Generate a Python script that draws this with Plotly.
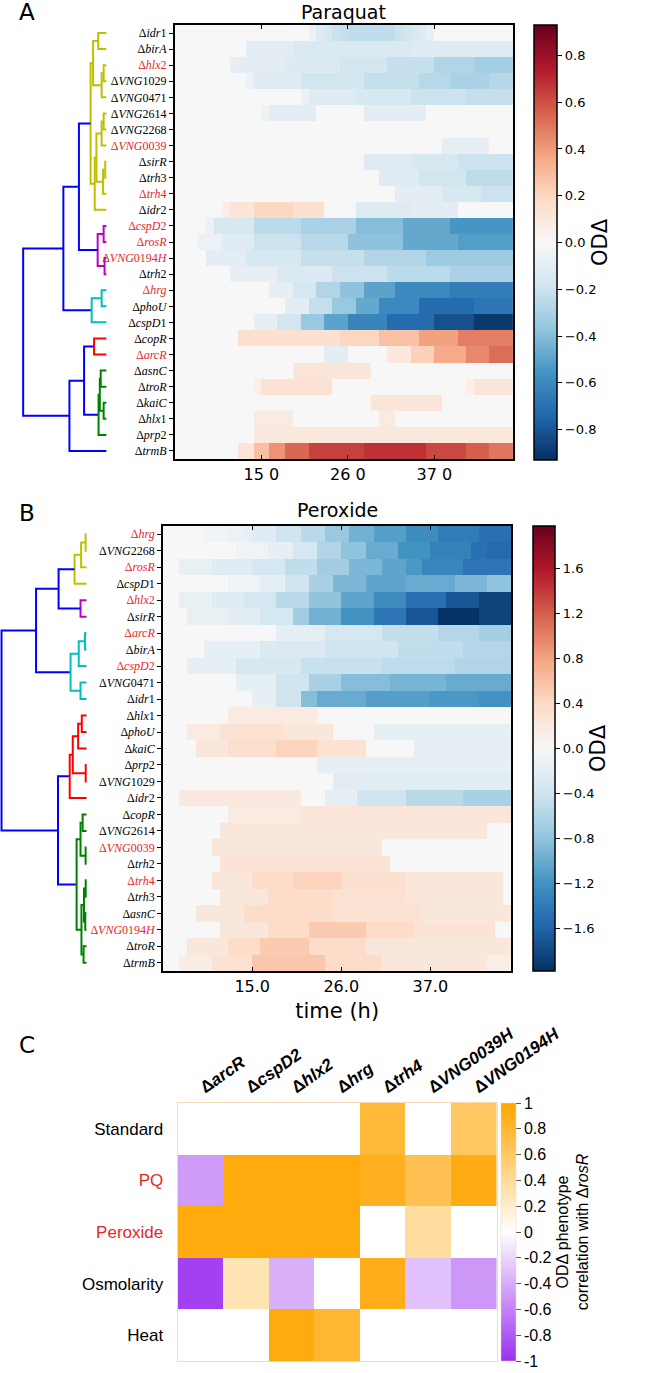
import re
import plotly.graph_objects as go

W, H = 671, 1373

# ---------------- data ----------------
hours = list(range(4, 47))            # 1-h bins (bin start), 4 h ... 46 h
hour_centers = [h + 0.5 for h in hours]
time_ticks = [15, 26, 37]
pq_tick_text = ["15 0", "26 0", "37 0"]
px_tick_text = ["15.0", "26.0", "37.0"]

pq_genes = ["idr1", "birA", "hlx2", "VNG1029", "VNG0471", "VNG2614", "VNG2268", "VNG0039",
            "sirR", "trh3", "trh4", "idr2", "cspD2", "rosR", "VNG0194H", "trh2", "hrg", "phoU",
            "cspD1", "copR", "arcR", "asnC", "troR", "kaiC", "hlx1", "prp2", "trmB"]
pq_red = ["hlx2", "VNG0039", "trh4", "cspD2", "rosR", "VNG0194H", "hrg", "arcR"]

pq_z = [
    [0,0,0,0,0,0,0,0,0,0, 0,0,0,0,0,0,0,-.06,-.12,-.16, -.2,-.22,-.24,-.24,-.24,-.24,-.24,-.24,-.2,-.18, -.15,-.12,-.08,0,0,0,0,0,0,0, 0,0,0],
    [0,0,0,0,0,0,0,0,0,-.1, -.1,-.1,-.1,-.1,-.1,-.14,-.14,-.14,-.14,-.14, -.14,-.14,-.14,-.14,-.14,-.14,-.14,-.14,-.14,-.14, -.12,-.12,-.12,-.12,-.12,-.12,-.12,-.12,-.12,-.12, -.12,-.12,-.12],
    [0,0,0,0,0,0,0,-.08,-.1,-.1, -.1,-.1,-.1,-.1,-.13,-.13,-.13,-.13,-.13,-.13, -.13,-.17,-.17,-.17,-.17,-.17,-.17,-.22,-.22,-.22, -.22,-.22,-.22,-.28,-.28,-.28,-.28,-.28,-.32,-.32, -.32,-.32,-.32],
    [0,0,0,0,0,0,0,0,0,-.06, -.12,-.12,-.12,-.12,-.12,-.12,-.18,-.18,-.18,-.18, -.18,-.18,-.18,-.18,-.22,-.22,-.22,-.22,-.22,-.22, -.22,-.26,-.26,-.26,-.26,-.3,-.3,-.3,-.3,-.3, -.27,-.27,-.27],
    [0,0,0,0,0,0,0,0,0,0, 0,0,0,0,0,0,-.06,-.12,-.12,-.12, -.12,-.12,-.12,-.16,-.16,-.16,-.16,-.16,-.16,-.16, -.2,-.2,-.2,-.2,-.2,-.2,-.2,-.22,-.22,-.22, -.22,-.22,-.22],
    [0,0,0,0,0,0,0,0,0,0, 0,-.05,-.1,-.1,-.1,-.1,-.1,-.1,0,0, 0,0,0,0,-.1,-.1,-.1,-.1,-.1,-.1, -.1,-.1,0,0,0,0,0,0,0,0, 0,0,0],
    [0,0,0,0,0,0,0,0,0,0, 0,0,0,0,0,0,0,0,0,0, 0,0,0,0,0,0,0,0,0,0, 0,0,0,0,0,0,0,0,0,0, 0,0,0],
    [0,0,0,0,0,0,0,0,0,0, 0,0,0,0,0,0,0,0,0,0, 0,0,0,0,0,0,0,0,0,0, 0,0,0,0,-.08,-.08,-.08,-.08,-.08,-.08, 0,0,0],
    [0,0,0,0,0,0,0,0,0,0, 0,0,0,0,0,0,0,0,0,0, 0,0,0,0,-.12,-.12,-.12,-.12,-.12,-.12, -.15,-.15,-.15,-.15,-.15,-.15,-.2,-.2,-.2,-.2, -.2,-.2,-.2],
    [0,0,0,0,0,0,0,0,0,0, 0,0,0,0,0,0,0,0,0,0, 0,0,0,0,0,0,-.12,-.12,-.12,-.12, -.12,-.18,-.18,-.18,-.18,-.18,-.18,-.24,-.24,-.24, -.24,-.24,-.24],
    [0,0,0,0,0,0,0,0,0,0, 0,0,0,0,0,0,0,0,0,0, 0,0,0,0,0,0,0,0,-.1,-.1, -.1,-.1,-.1,-.1,-.15,-.15,-.15,-.15,-.15,-.2, -.2,-.2,-.2],
    [0,0,0,0,0,0,.06,.12,.12,.12, .2,.2,.2,.2,.2,.15,.15,.15,.15,0, 0,0,0,-.12,-.12,-.12,-.12,-.12,-.12,-.12, -.1,-.1,-.1,-.1,-.1,-.1,0,0,0,0, 0,0,0],
    [0,0,0,0,-.06,-.15,-.15,-.15,-.15,-.15, -.25,-.25,-.25,-.25,-.25,-.25,-.3,-.3,-.3,-.3, -.3,-.3,-.3,-.4,-.4,-.4,-.4,-.4,-.4,-.48, -.48,-.48,-.48,-.48,-.48,-.55,-.55,-.55,-.55,-.55, -.55,-.55,-.55],
    [0,0,0,-.06,-.06,-.06,-.12,-.12,-.12,-.12, -.2,-.2,-.2,-.2,-.2,-.2,-.26,-.26,-.26,-.26, -.26,-.26,-.38,-.38,-.38,-.38,-.38,-.38,-.38,-.48, -.48,-.48,-.48,-.48,-.48,-.48,-.52,-.52,-.52,-.52, -.52,-.52,-.52],
    [0,0,0,0,-.1,-.1,-.1,-.1,-.1,-.16, -.16,-.16,-.16,-.16,-.16,-.16,-.22,-.22,-.22,-.22, -.22,-.22,-.22,-.22,-.28,-.28,-.28,-.28,-.28,-.28, -.28,-.28,-.34,-.34,-.34,-.34,-.34,-.34,-.34,-.34, -.34,-.34,-.34],
    [0,0,0,0,0,0,0,-.08,-.08,-.08, -.08,-.08,-.08,-.14,-.14,-.14,-.14,-.14,-.14,-.14, -.2,-.2,-.2,-.2,-.2,-.2,-.2,-.25,-.25,-.25, -.25,-.25,-.25,-.25,-.25,-.3,-.3,-.3,-.3,-.3, -.3,-.3,-.3],
    [0,0,0,0,0,0,0,0,0,0, 0,0,-.08,-.08,-.08,-.16,-.16,-.16,-.28,-.28, -.28,-.38,-.38,-.38,-.5,-.5,-.5,-.5,-.6,-.6, -.6,-.6,-.6,-.6,-.6,-.65,-.65,-.65,-.65,-.65, -.65,-.65,-.65],
    [0,0,0,0,0,0,0,0,0,0, 0,0,0,0,-.1,-.1,-.1,-.22,-.22,-.22, -.35,-.35,-.35,-.48,-.48,-.48,-.6,-.6,-.6,-.6, -.6,-.72,-.72,-.72,-.72,-.72,-.72,-.72,-.68,-.68, -.68,-.68,-.68],
    [0,0,0,0,0,0,0,0,0,0, -.08,-.08,-.08,-.18,-.18,-.18,-.35,-.35,-.35,-.5, -.5,-.5,-.62,-.62,-.62,-.62,-.62,-.72,-.72,-.72, -.72,-.72,-.72,-.82,-.82,-.82,-.82,-.82,-.9,-.9, -.9,-.9,-.9],
    [0,0,0,0,0,0,0,0,.15,.15, .15,.15,.15,.15,.15,.15,.15,.15,.15,.15, .15,.2,.2,.2,.2,.2,.28,.28,.28,.28, .28,.38,.38,.38,.38,.38,.48,.48,.48,.48, .48,.48,.48],
    [0,0,0,0,0,0,0,0,0,0, 0,0,0,0,0,0,0,0,0,-.1, -.1,-.1,0,0,0,0,0,.1,.1,.1, .22,.22,.22,.35,.35,.35,.35,.45,.45,.45, .52,.52,.52],
    [0,0,0,0,0,0,0,0,0,0, 0,0,0,0,0,.12,.12,.12,.12,.12, .12,.12,.12,.12,.12,0,0,0,0,0, 0,0,0,0,0,0,0,0,0,0, 0,0,0],
    [0,0,0,0,0,0,0,0,0,0, .06,.14,.14,.14,.14,.14,.14,.14,.14,.14, 0,0,0,0,0,0,0,0,0,0, 0,0,0,0,0,0,0,.06,.12,.12, .12,.12,.12],
    [0,0,0,0,0,0,0,0,0,0, 0,0,0,0,0,0,0,0,0,0, 0,0,0,0,0,.12,.12,.12,.12,.12, .12,.12,.12,.12,0,0,0,0,0,0, 0,0,0],
    [0,0,0,0,0,0,0,0,0,0, .08,.08,.08,.08,.08,0,0,0,0,0, 0,0,0,0,0,0,.08,.08,0,0, 0,0,0,0,0,0,0,0,0,0, 0,0,0],
    [0,0,0,0,0,0,0,0,0,0, .1,.1,.1,.1,.1,.1,.1,.1,.1,.1, .1,.1,.1,.1,.1,.1,.1,.1,.1,.1, .1,.1,.1,.1,.1,.1,.1,.1,.1,.1, .1,.1,.1],
    [0,0,0,0,0,0,0,0,.12,.12, .28,.28,.42,.42,.54,.54,.54,.64,.64,.64, .64,.64,.64,.64,.68,.68,.68,.68,.68,.68, .68,.68,.62,.62,.62,.62,.62,.56,.56,.56, .5,.5,.5],
]

px_genes = ["hrg", "VNG2268", "rosR", "cspD1", "hlx2", "sirR", "arcR", "birA", "cspD2", "VNG0471",
            "idr1", "hlx1", "phoU", "kaiC", "prp2", "VNG1029", "idr2", "copR", "VNG2614", "VNG0039",
            "trh2", "trh4", "trh3", "asnC", "VNG0194H", "troR", "trmB"]
px_red = ["hrg", "rosR", "hlx2", "arcR", "cspD2", "VNG0039", "trh4", "VNG0194H"]

px_z = [
    [0,0,0,0,0,-.06,-.06,-.06,-.12,-.12, -.15,-.25,-.25,-.25,-.4,-.4,-.4,-.55,-.55,-.55, -.75,-.75,-.75,-.95,-.95,-.95,-1.1,-1.1,-1.1,-1.1, -1.25,-1.25,-1.25,-1.25,-1.4,-1.4,-1.4,-1.4,-1.4,-1.5, -1.5,-1.5,-1.5],
    [0,0,0,0,0,0,0,0,0,-.08, -.08,-.08,-.08,-.18,-.18,-.18,-.35,-.35,-.35,-.6, -.6,-.6,-.8,-.8,-.8,-1,-1,-1,-1,-1.2, -1.2,-1.2,-1.2,-1.35,-1.35,-1.35,-1.35,-1.35,-1.5,-1.5, -1.55,-1.55,-1.55],
    [0,0,-.15,-.15,-.15,-.15,-.25,-.25,-.25,-.25, -.25,-.35,-.35,-.35,-.35,-.5,-.5,-.5,-.5,-.7, -.7,-.7,-.7,-.9,-.9,-.9,-.9,-1.05,-1.05,-1.05, -1.15,-1.15,-1.3,-1.3,-1.3,-1.3,-1.3,-1.45,-1.45,-1.45, -1.45,-1.45,-1.45],
    [0,0,0,0,0,0,0,0,-.08,-.08, -.08,-.08,-.2,-.2,-.2,-.4,-.4,-.4,-.65,-.65, -.65,-.9,-.9,-.9,-.9,-1.05,-1.05,-1.05,-1.05,-1.05, -1,-1,-1,-1,-1,-1,-.9,-.9,-.9,-.9, -.8,-.8,-.8],
    [0,0,-.15,-.15,-.15,-.15,-.25,-.25,-.25,-.25, -.35,-.35,-.35,-.35,-.55,-.55,-.55,-.55,-.8,-.8, -.8,-.8,-1.05,-1.05,-1.05,-1.05,-1.25,-1.25,-1.25,-1.25, -1.5,-1.5,-1.5,-1.5,-1.5,-1.7,-1.7,-1.7,-1.7,-1.85, -1.85,-1.85,-1.85],
    [0,0,0,-.15,-.15,-.15,-.15,-.15,-.22,-.22, -.22,-.22,-.35,-.35,-.35,-.35,-.7,-.7,-.95,-.95, -.95,-.95,-1.2,-1.2,-1.2,-1.2,-1.45,-1.45,-1.45,-1.45, -1.7,-1.7,-1.7,-1.7,-1.95,-1.95,-1.95,-1.95,-1.95,-1.85, -1.85,-1.85,-1.85],
    [0,0,0,0,0,0,0,0,0,0, 0,0,0,0,-.2,-.2,-.2,-.2,-.2,-.2, -.35,-.35,-.35,-.35,-.35,-.35,-.35,-.48,-.48,-.48, -.48,-.48,-.48,-.48,-.58,-.58,-.58,-.58,-.58,-.68, -.68,-.68,-.68],
    [0,0,0,0,0,-.18,-.18,-.18,-.18,-.18, -.18,-.18,-.3,-.3,-.3,-.3,-.3,-.3,-.3,-.3, -.4,-.4,-.4,-.4,-.4,-.4,-.4,-.4,-.4,-.5, -.5,-.5,-.5,-.5,-.5,-.5,-.5,-.58,-.58,-.58, -.58,-.58,-.58],
    [0,0,0,-.2,-.2,-.2,-.2,-.2,-.2,-.33, -.33,-.33,-.33,-.33,-.33,-.33,-.33,-.45,-.45,-.45, -.45,-.45,-.45,-.45,-.45,-.45,-.45,-.52,-.52,-.52, -.52,-.52,-.52,-.52,-.52,-.52,-.6,-.6,-.6,-.6, -.6,-.6,-.6],
    [0,0,0,0,0,0,0,0,0,-.18, -.18,-.18,-.18,-.18,-.4,-.4,-.4,-.4,-.65,-.65, -.65,-.65,-.85,-.85,-.85,-.85,-.85,-.85,-.92,-.92, -.92,-.92,-.92,-.92,-.92,-1,-1,-1,-1,-1, -1,-1,-1],
    [0,0,0,0,0,0,0,0,0,0, 0,-.18,-.18,-.18,-.4,-.4,-.4,-.85,-.85,-1, -1,-1,-1,-1,-1,-1.1,-1.1,-1.1,-1.1,-1.1, -1.1,-1.1,-1.1,-1.15,-1.15,-1.15,-1.15,-1.15,-1.15,-1.2, -1.2,-1.2,-1.2],
    [0,0,0,0,0,0,0,0,.18,.18, .18,.18,.18,.18,.18,.18,.18,.18,.18,0, 0,0,0,0,0,0,0,0,0,0, 0,0,0,0,0,0,0,0,0,0, 0,0,0],
    [0,0,0,.18,.18,.18,.18,.3,.3,.3, .3,.3,.3,.3,.3,.22,.22,.22,.22,.22, .22,0,0,0,0,0,-.18,-.18,-.18,-.18, -.18,-.18,-.18,-.18,-.18,-.18,-.18,-.18,-.18,-.18, -.18,-.18,-.18],
    [0,0,0,0,.22,.22,.22,.22,.33,.33, .33,.33,.33,.33,.45,.45,.45,.45,.45,.3, .3,.3,.3,.3,.3,0,0,0,0,0, 0,-.2,-.2,-.2,-.2,-.2,-.2,-.2,-.2,-.2, -.2,-.2,-.2],
    [0,0,0,0,0,0,0,0,0,0, 0,0,0,0,0,0,0,0,0,-.18, -.18,-.18,-.18,-.18,-.18,-.18,-.18,-.18,-.18,-.18, -.18,-.18,-.18,-.18,-.18,-.18,-.18,-.18,-.18,-.18, -.18,-.18,-.18],
    [0,0,0,0,0,0,0,0,0,0, 0,0,0,0,0,0,0,0,0,0, 0,-.22,-.22,-.22,-.22,-.22,-.22,-.22,-.22,-.22, -.22,-.22,-.22,-.22,-.22,-.22,-.22,-.22,-.22,-.22, -.22,-.22,-.22],
    [0,0,.2,.2,.2,.2,.2,.2,.2,.2, .2,.2,.2,.2,.2,.2,.2,0,0,0, -.2,-.2,-.2,-.2,-.4,-.4,-.4,-.4,-.4,-.4, -.55,-.55,-.55,-.55,-.55,-.55,-.55,-.65,-.65,-.65, -.65,-.65,-.65],
    [0,0,0,0,0,0,0,0,.18,.18, .18,.18,.18,.18,.18,.18,.18,.25,.25,.25, .25,.25,.25,.25,.25,.25,.25,.25,.25,.25, .25,.25,.25,.25,.25,.25,.25,.25,.25,.25, .25,.25,.25],
    [0,0,0,0,0,0,0,.22,.22,.22, .22,.22,.22,.22,.22,.22,.22,.22,.22,.22, .22,.22,.22,.22,.22,.22,.22,.22,.22,.22, .22,.22,.22,.22,.22,.22,.22,.22,.22,.22, 0,0,0],
    [0,0,0,0,0,0,.22,.22,.22,.22, .22,.22,.22,.22,.22,.22,.22,.22,.22,.22, .22,.22,.22,.22,.22,.22,.22,0,0,0, 0,0,0,0,0,0,0,0,0,0, 0,0,0],
    [0,0,0,0,0,0,0,.27,.27,.27, .27,.27,.27,.27,.27,.27,.27,.27,.27,.27, .27,.27,.27,.27,.27,.27,.27,.27,0,0, 0,0,0,0,0,0,0,0,0,0, 0,0,0],
    [0,0,0,0,0,0,.22,.22,.22,.22, .22,.38,.38,.38,.38,.38,.45,.45,.45,.45, .45,.45,.33,.33,.33,.33,.33,.33,.33,.33, .24,.24,.24,.24,.24,.24,.24,.24,.24,.24, .24,.24,0],
    [0,0,0,0,0,0,0,.22,.22,.22, .22,.22,.22,.38,.38,.38,.38,.38,.38,.38, .38,.3,.3,.3,.3,.3,.3,.3,.3,.3, .22,.22,.22,.22,.22,.22,.22,.22,.22,.22, .22,.22,0],
    [0,0,0,0,.22,.22,.22,.22,.22,.22, .38,.38,.38,.38,.38,.38,.38,.38,.38,.38, .38,.3,.3,.3,.3,.3,.3,.3,.3,.3, .3,.3,.22,.22,.22,.22,.22,.22,.22,.22, .22,.22,.22],
    [0,0,0,0,0,0,0,.22,.22,.22, .22,.22,.22,.38,.38,.38,.38,.38,.52,.52, .52,.52,.52,.52,.52,.38,.38,.38,.38,.38, .38,.27,.27,.27,.27,.27,.27,.27,.27,.27, .27,0,0],
    [0,0,0,.22,.22,.22,.22,.22,.38,.38, .38,.38,.52,.52,.52,.52,.52,.52,.38,.38, .38,.38,.38,.38,.38,.22,.22,.22,.22,.22, .22,.22,.22,.22,.22,.22,.22,.22,.22,.22, .22,.22,.22],
    [0,0,.15,.15,.15,.15,.3,.3,.3,.3, .3,.55,.55,.55,.55,.55,.55,.55,.55,.55, .38,.38,.38,.38,.38,.38,.38,.22,.22,.22, .22,.22,.22,.22,.22,.22,.22,.22,.22,.22, .12,.12,.12],
]

# dendrograms: (merge height, colour key, left, right); ints are leaf row indices
pq_tree = (1.0, "B",
           (0.517, "B",
            (0.33, "B",
             (0.19, "Y",
              (0.16, "Y", (0.098, "Y", 0, 1), (0.057, "Y", (0.033, "Y", 2, 3), 4)),
              (0.14, "Y", (0.12, "Y", (0.057, "Y", (0.033, "Y", 5, 6), 7),
                                      (0.04, "Y", (0.014, "Y", 8, 9), 10)), 11)),
             (0.105, "M", (0.033, "M", 12, 13), (0.022, "M", 14, 15))),
            (0.177, "C", (0.057, "C", 16, 17), 18)),
           (0.444, "B",
            (0.268, "B",
             (0.148, "R", 19, 20),
             (0.094, "G", (0.079, "G", (0.068, "G", 21, 22), (0.033, "G", 23, 24)), 25)),
            26))

px_tree = (1.0, "B",
           (0.594, "B",
            (0.329, "B",
             (0.141, "Y", (0.064, "Y", (0.011, "Y", 0, 1), 2), 3),
             (0.071, "M", 4, 5)),
            (0.188, "C", (0.092, "C", (0.018, "C", 6, 7), 8), (0.071, "C", 9, 10))),
           (0.336, "B",
            (0.198, "R", (0.162, "R", (0.099, "R", (0.056, "R", 11, 12), 13), (0.01, "R", 14, 15)), 16),
            (0.117, "G",
             (0.071, "G", (0.046, "G", 17, 18), (0.011, "G", 19, 20)),
             (0.06, "G", (0.03, "G", (0.01, "G", 21, 22), (0.015, "G", 23, 24)), (0.035, "G", 25, 26)))))

cond_names = ["Standard", "PQ", "Peroxide", "Osmolarity", "Heat"]
cond_red = ["PQ", "Peroxide"]
mutant_names = ["arcR", "cspD2", "hlx2", "hrg", "trh4", "VNG0039H", "VNG0194H"]
corr_z = [
    [0, 0, 0, 0, 0.78, 0, 0.62],
    [-0.48, 0.95, 0.95, 0.95, 0.88, 0.68, 0.92],
    [0.95, 0.95, 0.95, 0.95, 0, 0.38, 0],
    [-0.92, 0.3, -0.38, 0, 0.9, -0.3, -0.5],
    [0, 0, 0.95, 0.8, 0, 0, 0],
]
corr_ticks = [1, 0.8, 0.6, 0.4, 0.2, 0, -0.2, -0.4, -0.6, -0.8, -1]
corr_tick_text = ["1", "0.8", "0.6", "0.4", "0.2", "0", "-0.2", "-0.4", "-0.6", "-0.8", "-1"]

for nm, z in (("pq", pq_z), ("px", px_z)):
    for i, r in enumerate(z):
        assert len(r) == len(hours), (nm, i, len(r))

# ---------------- styling helpers ----------------
RED = "#e8262a"
LINK_COL = {"Y": "#bfbf00", "M": "#bf00bf", "C": "#00bfbf", "R": "#ff0000", "G": "#008000", "B": "#0000ff"}
RDBU_R = [[0.0, "#053061"], [0.1, "#2166ac"], [0.2, "#4393c3"], [0.3, "#92c5de"], [0.4, "#d1e5f0"],
          [0.5, "#f7f7f7"], [0.6, "#fddbc7"], [0.7, "#f4a582"], [0.8, "#d6604d"], [0.9, "#b2182b"],
          [1.0, "#67001f"]]
ORPU = [[0.0, "#9b2ff0"], [0.5, "#ffffff"], [1.0, "#ffa500"]]


def gene_label(name, red):
    parts = re.findall(r"[A-Za-z]+|\d+", name)
    txt = "Δ" + "".join(f"<i>{p}</i>" if p.isalpha() else p for p in parts)
    return f'<span style="color:{RED}">{txt}</span>' if name in red else txt


def tree_segments(node, segs):
    if isinstance(node, int):
        return float(node), 0.0
    h, col, left, right = node
    yl, hl = tree_segments(left, segs)
    yr, hr = tree_segments(right, segs)
    xs, ys = segs.setdefault(col, ([], []))
    xs += [hl, h, h, hr, None]
    ys += [yl, yl, yr, yr, None]
    return (yl + yr) / 2, h


def fx(px):
    return px / W


def fy(py):
    return 1 - py / H


def dendro_range(leaf_px, root_px, width_px):
    a = leaf_px / (leaf_px - root_px)
    return [a, a + width_px / (root_px - leaf_px)]


fig = go.Figure()

# ---------------- panel A ----------------
fig.add_trace(go.Heatmap(
    z=pq_z, x=hour_centers, y=list(range(len(pq_genes))), xaxis="x", yaxis="y",
    colorscale=RDBU_R, zmin=-0.93, zmax=0.93, hoverinfo="skip",
    colorbar=dict(x=fx(592), xanchor="left", y=fy(25), yanchor="top", len=435 / H,
                  thickness=23, thicknessmode="pixels", xpad=0, ypad=0,
                  outlinewidth=1.5, outlinecolor="black",
                  tickvals=[-0.8, -0.6, -0.4, -0.2, 0, 0.2, 0.4, 0.6, 0.8], tickformat=".1f",
                  ticks="outside", ticklen=5, tickcolor="black",
                  tickfont=dict(family="DejaVu Sans", size=13, color="black"),
                  title=dict(text="ODΔ", side="right", font=dict(family="DejaVu Sans", size=21, color="black")))))

segs = {}
tree_segments(pq_tree, segs)
for col, (xs, ys) in segs.items():
    fig.add_trace(go.Scatter(x=xs, y=ys, xaxis="x2", yaxis="y", mode="lines",
                             line=dict(color=LINK_COL[col], width=2), hoverinfo="skip", showlegend=False))

# ---------------- panel B ----------------
fig.add_trace(go.Heatmap(
    z=px_z, x=hour_centers, y=list(range(len(px_genes))), xaxis="x3", yaxis="y3",
    colorscale=RDBU_R, zmin=-1.98, zmax=1.98, hoverinfo="skip",
    colorbar=dict(x=fx(591), xanchor="left", y=fy(526), yanchor="top", len=445 / H,
                  thickness=22, thicknessmode="pixels", xpad=0, ypad=0,
                  outlinewidth=1.5, outlinecolor="black",
                  tickvals=[-1.6, -1.2, -0.8, -0.4, 0, 0.4, 0.8, 1.2, 1.6], tickformat=".1f",
                  ticks="outside", ticklen=5, tickcolor="black",
                  tickfont=dict(family="DejaVu Sans", size=13, color="black"),
                  title=dict(text="ODΔ", side="right", font=dict(family="DejaVu Sans", size=21, color="black")))))

segs = {}
tree_segments(px_tree, segs)
for col, (xs, ys) in segs.items():
    fig.add_trace(go.Scatter(x=xs, y=ys, xaxis="x4", yaxis="y3", mode="lines",
                             line=dict(color=LINK_COL[col], width=2), hoverinfo="skip", showlegend=False))

# ---------------- panel C ----------------
fig.add_trace(go.Heatmap(
    z=corr_z, x=list(range(len(mutant_names))), y=list(range(len(cond_names))), xaxis="x5", yaxis="y5",
    colorscale=ORPU, zmin=-1, zmax=1, hoverinfo="skip",
    colorbar=dict(x=fx(556), xanchor="left", y=fy(1103), yanchor="top", len=258 / H,
                  thickness=15, thicknessmode="pixels", xpad=0, ypad=0,
                  outlinewidth=0.5, outlinecolor="#f0d9a8",
                  tickvals=corr_ticks, ticktext=corr_tick_text,
                  ticks="outside", ticklen=5, tickcolor="#555555",
                  tickfont=dict(family="Liberation Sans", size=16, color="black"),
                  title=dict(text="ODΔ phenotype<br>correlation with Δ<i>rosR</i>", side="right",
                             font=dict(family="Liberation Sans", size=16, color="black")))))

# ---------------- axes ----------------
frame = dict(showline=True, linewidth=2, linecolor="black", showgrid=False, zeroline=False)
label_font = dict(family="Liberation Serif", size=12, color="black")
tick_font = dict(family="DejaVu Sans", size=16, color="black")

fig.update_layout(
    width=W, height=H, margin=dict(l=0, r=0, t=0, b=0), autosize=False,
    paper_bgcolor="white", plot_bgcolor="white", showlegend=False,
    xaxis=dict(domain=[fx(194), fx(569)], anchor="y", range=[4, 47], tickvals=time_ticks,
               ticktext=pq_tick_text, ticks="inside", ticklen=4, tickcolor="black", mirror="ticks",
               tickfont=tick_font, **frame),
    yaxis=dict(domain=[fy(459), fy(25)], anchor="x", range=[len(pq_genes) - 0.5, -0.5],
               tickvals=list(range(len(pq_genes))), ticktext=[gene_label(g, pq_red) for g in pq_genes],
               ticks="outside", ticklen=4, tickcolor="black", mirror=True, tickfont=label_font, **frame),
    xaxis2=dict(domain=[0, fx(120)], anchor="y", range=dendro_range(118, 25.7, 120), visible=False),
    xaxis3=dict(domain=[fx(181), fx(567)], anchor="y3", range=[4, 47], tickvals=time_ticks,
                ticktext=px_tick_text, ticks="inside", ticklen=4, tickcolor="black", mirror="ticks",
                tickfont=tick_font,
                title=dict(text="time (h)", font=dict(family="DejaVu Sans", size=21, color="black"), standoff=8),
                **frame),
    yaxis3=dict(domain=[fy(971), fy(526)], anchor="x3", range=[len(px_genes) - 0.5, -0.5],
                tickvals=list(range(len(px_genes))), ticktext=[gene_label(g, px_red) for g in px_genes],
                ticks="outside", ticklen=4, tickcolor="black", mirror=True, tickfont=label_font, **frame),
    xaxis4=dict(domain=[0, fx(100)], anchor="y3", range=dendro_range(96, 1.7, 100), visible=False),
    xaxis5=dict(domain=[fx(197), fx(551)], anchor="y5", side="top", range=[-0.5, len(mutant_names) - 0.5],
                tickvals=list(range(len(mutant_names))),
                ticktext=[f"<b>Δ<i>{m}</i></b>" for m in mutant_names], tickangle=-35, ticks="",
                tickfont=dict(family="Liberation Sans", size=17, color="black"),
                showline=True, linewidth=1, linecolor="#f3dcb0", mirror=True, showgrid=False, zeroline=False),
    yaxis5=dict(domain=[fy(1361), fy(1103)], anchor="x5", range=[len(cond_names) - 0.5, -0.5],
                tickvals=list(range(len(cond_names))),
                ticktext=[f'<span style="color:{RED}">{c}</span>' if c in cond_red else c for c in cond_names],
                ticks="", ticklabelstandoff=10,
                tickfont=dict(family="Liberation Sans", size=17, color="black"),
                showline=True, linewidth=1, linecolor="#f3dcb0", mirror=True, showgrid=False, zeroline=False),
)

annots = [
    dict(text="A", x=fx(30), y=fy(12), size=23),
    dict(text="B", x=fx(30), y=fy(513), size=23),
    dict(text="C", x=fx(30), y=fy(1045), size=23),
    dict(text="Paraquat", x=fx(381.5), y=fy(12), size=19),
    dict(text="Peroxide", x=fx(374), y=fy(510), size=19),
]
for a in annots:
    fig.add_annotation(text=a["text"], x=a["x"], y=a["y"], xref="paper", yref="paper",
                       xanchor="center", yanchor="middle", showarrow=False,
                       font=dict(family="DejaVu Sans", size=a["size"], color="black"))

fig.write_html("out.html", config={"displayModeBar": False},
               post_script="document.body.style.margin='0';")
